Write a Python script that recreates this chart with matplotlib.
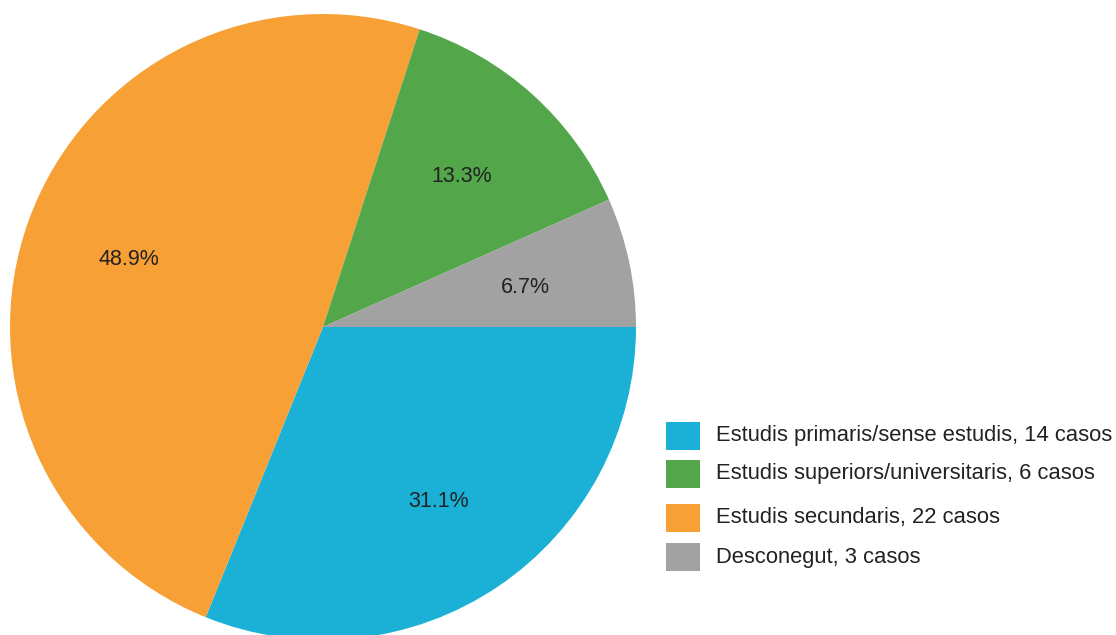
import matplotlib.pyplot as plt
from matplotlib.patches import Rectangle

plt.rcParams["font.family"] = ["Liberation Sans", "DejaVu Sans"]

# education level of cases (pie order, clockwise from 3 o'clock)
categories = ["Estudis primaris/sense estudis", "Estudis secundaris",
              "Estudis superiors/universitaris", "Desconegut"]
cases = [14, 22, 6, 3]
colors = ["#1BB1D7", "#F7A035", "#53A64A", "#A2A2A2"]

# legend order
legend_order = [0, 2, 1, 3]
legend_rows_px = [422, 460, 504, 543]

W, H = 1116, 635
fig = plt.figure(figsize=(W / 100, H / 100), dpi=100)

cx, cy, r = 323, 327, 313
ax = fig.add_axes([(cx - r) / W, (H - cy - r) / H, 2 * r / W, 2 * r / H])
wedges, texts, autotexts = ax.pie(
    cases, colors=colors, startangle=0, counterclock=False,
    autopct="%.1f%%", pctdistance=0.66,
    textprops={"fontsize": 15.5, "color": "#222222"},
    wedgeprops={"linewidth": 0},
)
for t in autotexts:
    x, y = t.get_position()
    t.set_position((x, y - 0.01))
ax.set_xlim(-1, 1)
ax.set_ylim(-1, 1)
ax.set_aspect("equal")
ax.axis("off")

# legend drawn by hand in pixel coordinates
for i, top in zip(legend_order, legend_rows_px):
    fig.add_artist(Rectangle((666 / W, 1 - (top + 28) / H), 34 / W, 28 / H,
                             transform=fig.transFigure, facecolor=colors[i],
                             edgecolor="none"))
    fig.text(716 / W, 1 - (top + 14) / H, f"{categories[i]}, {cases[i]} casos",
             fontsize=15.8, color="#222222", va="center", ha="left")

fig.savefig("out.png", dpi=100)
